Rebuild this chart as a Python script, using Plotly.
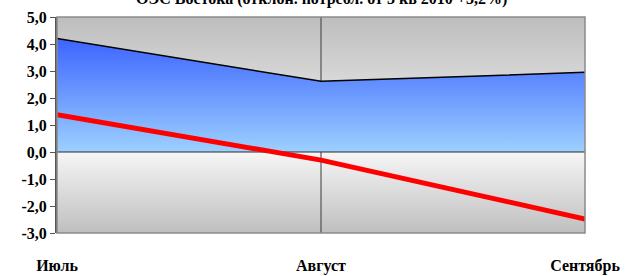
import plotly.graph_objects as go

months = ["Июль", "Август", "Сентябрь"]
blue_series = [4.2, 2.62, 2.95]
red_series = [1.38, -0.3, -2.48]
y_tickvals = [-3, -2, -1, 0, 1, 2, 3, 4, 5]
y_ticktext = ["-3,0", "-2,0", "-1,0", "0,0", "1,0", "2,0", "3,0", "4,0", "5,0"]
title_text = "ОЭС Востока (отклон. потребл. от 3 кв 2010 +3,2%)"

ymin, ymax = y_tickvals[0], y_tickvals[-1]
font_family = "Liberation Serif"

fig = go.Figure()

# background gradient (above zero)
fig.add_trace(go.Scatter(
    x=[months[0], months[-1], months[-1], months[0]], y=[0, 0, ymax, ymax],
    fill="toself", mode="none", hoverinfo="skip", showlegend=False,
    fillgradient=dict(type="vertical", start=0, stop=ymax,
                      colorscale=[[0, "#f6f6f6"], [1, "#bdbdbd"]])))
# background gradient (below zero)
fig.add_trace(go.Scatter(
    x=[months[0], months[-1], months[-1], months[0]], y=[ymin, ymin, 0, 0],
    fill="toself", mode="none", hoverinfo="skip", showlegend=False,
    fillgradient=dict(type="vertical", start=ymin, stop=0,
                      colorscale=[[0, "#bfbfbf"], [1, "#f6f6f6"]])))
# vertical divider at middle category
fig.add_trace(go.Scatter(
    x=[months[1], months[1]], y=[ymin, ymax], mode="lines",
    line=dict(color="#3a3a3a", width=1), hoverinfo="skip", showlegend=False))
# blue area
fig.add_trace(go.Scatter(
    x=months, y=blue_series, mode="lines", fill="tozeroy",
    line=dict(color="#000000", width=1.5), showlegend=False,
    fillgradient=dict(type="vertical", start=0, stop=max(blue_series),
                      colorscale=[[0, "#9dd0ff"], [1, "#3c64ff"]])))
# zero line
fig.add_trace(go.Scatter(
    x=[months[0], months[-1]], y=[0, 0], mode="lines",
    line=dict(color="#2a2a2a", width=1.2), hoverinfo="skip", showlegend=False))
# red line
fig.add_trace(go.Scatter(
    x=months, y=red_series, mode="lines",
    line=dict(color="#ff0000", width=5), showlegend=False))

fig.add_shape(type="rect", xref="paper", yref="paper", x0=0, x1=1, y0=0, y1=1,
              line=dict(color="#8a8a8a", width=1.5), layer="above")

fig.add_annotation(text="<b>" + title_text + "</b>", xref="paper", yref="paper",
                   x=0.5, y=1.083, xanchor="center", yanchor="middle",
                   showarrow=False,
                   font=dict(family=font_family, size=16, color="#000000"))

fig.update_layout(
    width=636, height=276,
    margin=dict(l=57, r=51, t=17, b=43, autoexpand=False),
    paper_bgcolor="#ffffff", plot_bgcolor="#ffffff",
    xaxis=dict(type="category", categoryorder="array", categoryarray=months,
               range=[0, 2], showgrid=False, zeroline=False, automargin=False,
               showline=False, ticks="", ticklabelstandoff=21,
               tickfont=dict(family=font_family, size=16, color="#000000", weight="bold")),
    yaxis=dict(range=[ymin, ymax], tickvals=y_tickvals, ticktext=y_ticktext,
               showgrid=False, zeroline=False, showline=True, automargin=False,
               linecolor="#555555", linewidth=2, ticks="outside", ticklen=5,
               tickcolor="#555555", tickwidth=1,
               tickfont=dict(family=font_family, size=16, color="#000000", weight="bold")),
)

fig.write_html("out.html", config={"displayModeBar": False},
               post_script="document.body.style.margin='0';document.body.style.overflow='hidden';")
